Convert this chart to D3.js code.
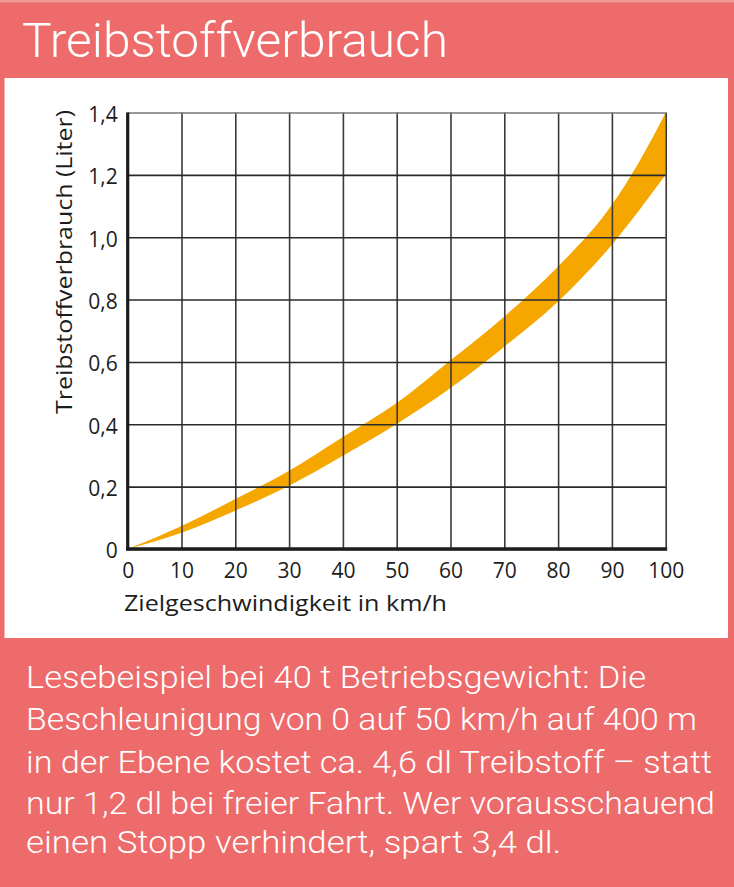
<!DOCTYPE html>
<html>
<head>
<meta charset="utf-8">
<script src="https://cdn.jsdelivr.net/npm/d3@7"></script>
<style>
  html, body { margin: 0; padding: 0; background: #ED6B6B; }
  svg { display: block; }
</style>
</head>
<body>
<svg id="chart" width="734" height="887"></svg>
<script>
// ---- data ----
const speeds = [0, 10, 20, 30, 40, 50, 60, 70, 80, 90, 95, 100];
const upperLiters = [0, 0.074, 0.160, 0.251, 0.359, 0.468, 0.605, 0.746, 0.906, 1.104, 1.240, 1.40];
const lowerLiters = [0, 0.052, 0.123, 0.203, 0.299, 0.401, 0.516, 0.649, 0.794, 0.976, 1.085, 1.20];
const xTickValues = [0, 10, 20, 30, 40, 50, 60, 70, 80, 90, 100];
const xTickLabels = ["0", "10", "20", "30", "40", "50", "60", "70", "80", "90", "100"];
const yTickValues = [0, 0.2, 0.4, 0.6, 0.8, 1.0, 1.2, 1.4];
const yTickLabels = ["0", "0,2", "0,4", "0,6", "0,8", "1,0", "1,2", "1,4"];
const titleText = "Treibstoffverbrauch";
const xAxisTitle = "Zielgeschwindigkeit in km/h";
const yAxisTitle = "Treibstoffverbrauch (Liter)";
const noteLines = [
  "Lesebeispiel bei 40 t Betriebsgewicht: Die",
  "Beschleunigung von 0 auf 50 km/h auf 400 m",
  "in der Ebene kostet ca. 4,6 dl Treibstoff – statt",
  "nur 1,2 dl bei freier Fahrt. Wer vorausschauend",
  "einen Stopp verhindert, spart 3,4 dl."
];

// ---- layout ----
const svg = d3.select("#chart");
const pink = "#ED6B6B";
const band = "#F5A700";
const ink = "#1c1c1c";

svg.append("rect").attr("x", 0).attr("y", 0).attr("width", 734).attr("height", 887).attr("fill", pink);
svg.append("rect").attr("x", 0).attr("y", 0).attr("width", 734).attr("height", 2.5).attr("fill", "#F39A96");
svg.append("rect").attr("x", 4.5).attr("y", 78).attr("width", 723.5).attr("height", 560).attr("fill", "#fff");

// title
svg.append("text")
  .attr("x", 22).attr("y", 57)
  .attr("fill", "#fff")
  .style("font-family", "Roboto")
  .style("font-weight", 300)
  .style("font-size", "49px")
  .attr("textLength", 426).attr("lengthAdjust", "spacingAndGlyphs")
  .text(titleText);

// scales
const x = d3.scaleLinear().domain([0, 100]).range([127.7, 665.7]);
const y = d3.scaleLinear().domain([0, 1.4]).range([549, 112.5]);

const data = speeds.map((s, i) => ({ s, lo: lowerLiters[i], hi: upperLiters[i] }));

// band
const area = d3.area()
  .x(d => x(d.s))
  .y0(d => y(d.lo))
  .y1(d => y(d.hi))
  .curve(d3.curveMonotoneX);
svg.append("path").datum(data).attr("d", area).attr("fill", band);

// grid
const gridV = svg.append("g").attr("transform", `translate(0,${y(0)})`)
  .call(d3.axisBottom(x).tickValues(xTickValues).tickSize(-(y(0) - y(1.4))).tickFormat(""));
gridV.select(".domain").remove();
gridV.selectAll("line").attr("stroke", "#3a3a3a").attr("stroke-width", 1.6);

const gridH = svg.append("g").attr("transform", `translate(${x(0)},0)`)
  .call(d3.axisLeft(y).tickValues(yTickValues).tickSize(-(x(100) - x(0))).tickFormat(""));
gridH.select(".domain").remove();
gridH.selectAll("line").attr("stroke", "#2a2a2a").attr("stroke-width", 1.6);
gridH.selectAll(".tick").filter(d => d === 1.4).select("line").attr("stroke", "#777");

// axes
const xAxis = svg.append("g").attr("transform", `translate(0,${y(0)})`)
  .call(d3.axisBottom(x).tickValues(xTickValues).tickSize(0).tickPadding(14)
    .tickFormat((d, i) => xTickLabels[i]));
xAxis.select(".domain").remove();
xAxis.selectAll("text").attr("fill", ink).style("font-family", "Open Sans").style("font-size", "21px");

const yAxis = svg.append("g").attr("transform", `translate(${x(0)},0)`)
  .call(d3.axisLeft(y).tickValues(yTickValues).tickSize(0).tickPadding(10)
    .tickFormat((d, i) => yTickLabels[i]));
yAxis.select(".domain").remove();
yAxis.selectAll("text").attr("fill", ink).attr("dy", "0.42em").style("font-family", "Open Sans").style("font-size", "21px");

// thick axis lines
svg.append("line").attr("x1", x(0)).attr("x2", x(0)).attr("y1", y(1.4)).attr("y2", y(0) + 1.5)
  .attr("stroke", ink).attr("stroke-width", 3.2);
svg.append("line").attr("x1", x(0) - 1.5).attr("x2", x(100) + 1.5).attr("y1", y(0)).attr("y2", y(0))
  .attr("stroke", ink).attr("stroke-width", 3.6);

// axis titles
svg.append("text")
  .attr("x", 124).attr("y", 611)
  .attr("fill", ink)
  .style("font-family", "Open Sans").style("font-size", "21px")
  .attr("textLength", 323).attr("lengthAdjust", "spacingAndGlyphs")
  .text(xAxisTitle);

svg.append("text")
  .attr("transform", "translate(72,110) rotate(-90)")
  .attr("text-anchor", "end")
  .attr("fill", ink)
  .style("font-family", "Open Sans").style("font-size", "21px")
  .attr("textLength", 304).attr("lengthAdjust", "spacingAndGlyphs")
  .text(yAxisTitle);

// note
const noteLengths = [620, 671, 686, 689, 535];
const noteBase = [688, 730, 772.5, 813.5, 853];
svg.append("g").selectAll("text").data(noteLines).join("text")
  .attr("x", 26)
  .attr("y", (d, i) => noteBase[i])
  .attr("fill", "#fff")
  .style("font-family", "Roboto").style("font-weight", 300).style("font-size", "30.5px")
  .attr("textLength", (d, i) => noteLengths[i]).attr("lengthAdjust", "spacingAndGlyphs")
  .text(d => d);
</script>
</body>
</html>
